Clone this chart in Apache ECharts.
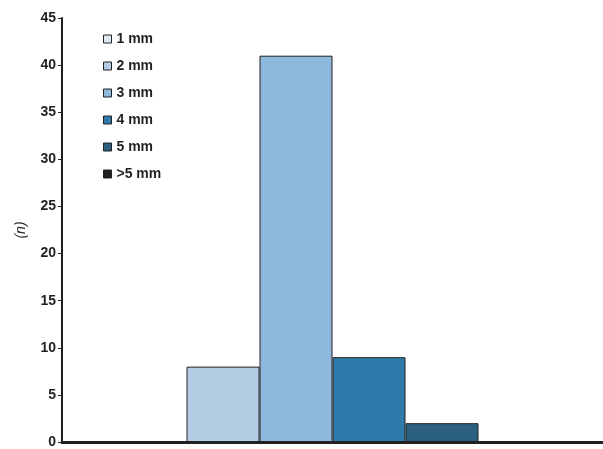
<!DOCTYPE html>
<html><head><meta charset="utf-8">
<script src="https://cdn.jsdelivr.net/npm/echarts@6/dist/echarts.min.js"></script>
<style>html,body{margin:0;padding:0;background:#fff}#c{width:603px;height:449px}</style>
</head><body><div id="c"></div>
<script>
const seriesNames = ['1 mm','2 mm','3 mm','4 mm','5 mm','>5 mm'];
const seriesValues = [0, 8, 41, 9, 2, 0];
const seriesColors = ['#dfe8f1','#b4cde4','#8fb8de','#2e7aab','#2a5f7f','#231f20'];
const yTicks = {min:0, max:45, interval:5};

const chart = echarts.init(document.getElementById('c'), null, {renderer:'canvas'});
const series = seriesNames.map((n,i)=>({
  name:n, type:'bar', data:[seriesValues[i]], barWidth:73, barGap:'0%',
  itemStyle:{color:seriesColors[i], borderColor:'#222', borderWidth:1},
  emphasis:{disabled:true}
}));
chart.setOption({
  animation:false,
  grid:{left:62, right:-8, top:18, bottom:2, containLabel:false},
  legend:{
    orient:'vertical', left:98, top:27, itemWidth:8, itemHeight:8, itemGap:13,
    icon:'rect',
    data:seriesNames.map((n,i)=>({name:n, itemStyle:{color:seriesColors[i], borderColor:'#222', borderWidth:1}})),
    textStyle:{fontFamily:'Liberation Sans, Arial, sans-serif', fontWeight:'bold', fontSize:14, color:'#231f20'}
  },
  xAxis:{type:'category', data:[''], axisLine:{lineStyle:{color:'#231f20', width:3}}, axisTick:{show:false}, axisLabel:{show:false}},
  yAxis:{type:'value', min:yTicks.min, max:yTicks.max, interval:yTicks.interval,
    name:'(n)', nameLocation:'middle', nameGap:34, nameRotate:90,
    nameTextStyle:{fontFamily:'Liberation Sans, Arial, sans-serif', fontStyle:'italic', fontSize:14, color:'#231f20'},
    axisLine:{show:true, lineStyle:{color:'#231f20', width:2}},
    axisTick:{show:true, length:4, lineStyle:{color:'#231f20', width:1}},
    splitLine:{show:false},
    axisLabel:{fontFamily:'Liberation Sans, Arial, sans-serif', fontWeight:'bold', fontSize:14, color:'#231f20', margin:6}
  },
  series:series
});
</script></body></html>
